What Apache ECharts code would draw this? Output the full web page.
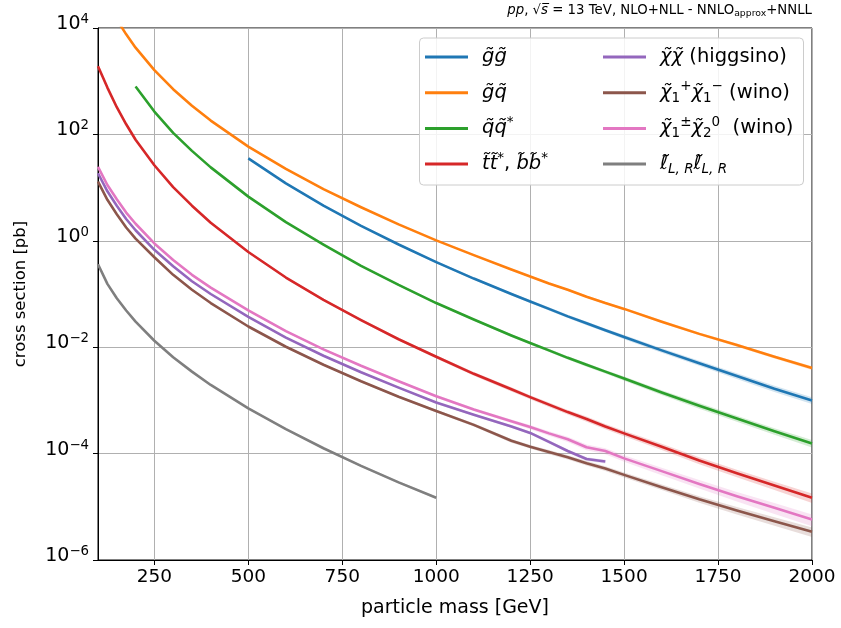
<!DOCTYPE html>
<html><head><meta charset="utf-8">
<script src="https://cdn.jsdelivr.net/npm/echarts@6/dist/echarts.min.js"></script>
<style>html,body{margin:0;padding:0;background:#fff}#c{width:841px;height:628px}</style>
</head><body><div id="c"></div>
<script>
// ---- data (cross sections in pb) ----
const masses = [100,125,150,175,200,250,300,350,400,500,600,700,800,900,1000,1100,1200,1250,1300,1350,1400,1450,1500,1600,1700,1800,1900,2000];
const xsec_gg = [null,null,null,null,null,null,null,null,null,35.5,12.0,4.57,1.91,0.851,0.398,0.195,0.100,0.0724,0.0525,0.0380,0.0282,0.0209,0.0155,0.00871,0.00501,0.00288,0.00166,0.00100];
const xsec_gq = [null,null,14500,7590,4270,1620,708,347,182,58.9,22.4,9.33,4.27,2.04,1.02,0.537,0.288,0.214,0.158,0.120,0.0891,0.0676,0.0525,0.0302,0.0178,0.0110,0.00661,0.00407];
const xsec_qq = [null,null,null,null,794,269,107,49.0,24.0,6.76,2.24,0.851,0.339,0.148,0.0676,0.0331,0.0166,0.0120,0.00871,0.00631,0.00468,0.00347,0.00257,0.00141,0.000794,0.000457,0.000263,0.000155];
const xsec_tt = [1905,759,324,155,79.4,26.3,10.2,4.57,2.19,0.617,0.204,0.0776,0.0324,0.0141,0.00661,0.00316,0.00162,0.00115,0.000832,0.000603,0.000447,0.000324,0.000240,0.000135,7.41e-5,4.27e-5,2.51e-5,1.48e-5];
const xsec_hino = [18.6,8.51,4.57,2.57,1.58,0.676,0.331,0.174,0.100,0.0372,0.0151,0.00692,0.00339,0.00174,0.000912,0.000537,0.000324,0.000245,0.000166,0.000112,7.94e-5,7.08e-5,null,null,null,null,null,null];
const xsec_c1c1 = [12.9,5.89,3.16,1.78,1.10,0.490,0.229,0.120,0.0676,0.0245,0.0102,0.00468,0.00229,0.00117,0.000631,0.000347,0.000174,0.000135,0.000107,8.51e-5,6.61e-5,5.25e-5,3.98e-5,2.34e-5,1.38e-5,8.51e-6,5.37e-6,3.39e-6];
const xsec_c1n2 = [24.5,11.2,6.03,3.39,2.09,0.891,0.437,0.229,0.132,0.0490,0.0200,0.00912,0.00447,0.00229,0.00120,0.000676,0.000407,0.000316,0.000240,0.000186,0.000132,0.000112,8.13e-5,4.68e-5,2.69e-5,1.58e-5,9.55e-6,5.75e-6];
const xsec_slep = [0.363,0.155,0.0832,0.0490,0.0302,0.0132,0.00646,0.00347,0.00195,0.000708,0.000288,0.000126,5.89e-5,2.88e-5,1.48e-5,null,null,null,null,null,null,null,null,null,null,null,null,null];
// relative uncertainties (percent, half width of the shaded band)
const unc_gg = [null,null,null,null,null,null,null,null,null,3,3,3,4,4,5,5,6,6,7,7,8,8,9,10,11,12,13,14];
const unc_gq = [null,null,3,3,3,3,3,3,3,3,3,3,3,3,3,4,4,4,5,5,5,5,5,6,6,7,7,8];
const unc_qq = [null,null,null,null,3,3,3,3,3,3,3,4,4,4,5,5,6,6,7,7,8,8,9,10,12,13,14,16];
const unc_tt = [3,3,3,3,3,3,3,4,4,4,5,5,6,6,7,8,9,9,10,10,11,11,12,13,15,16,18,20];
const unc_hino = [2,2,2,2,2,2,2,3,3,3,3,4,4,4,5,5,6,6,7,7,8,8,null,null,null,null,null,null];
const unc_c1c1 = [2,2,2,2,2,2,2,3,3,3,4,4,5,5,6,7,8,8,9,9,10,10,11,12,14,16,18,20];
const unc_c1n2 = [2,2,2,2,2,2,2,3,3,3,4,4,5,5,6,7,8,9,10,11,12,13,14,16,18,20,23,25];
const unc_slep = [3,3,3,3,3,3,3,3,3,4,4,4,5,5,5,null,null,null,null,null,null,null,null,null,null,null,null,null];

const xTicks = [250,500,750,1000,1250,1500,1750,2000];
const yTicks = [1e-6,1e-4,1e-2,1,1e2,1e4];

const seriesNames = ['gg','gq','qq','tt','hino','c1c1','c1n2','slep'];
const seriesValues = [xsec_gg,xsec_gq,xsec_qq,xsec_tt,xsec_hino,xsec_c1c1,xsec_c1n2,xsec_slep];
const seriesUnc = [unc_gg,unc_gq,unc_qq,unc_tt,unc_hino,unc_c1c1,unc_c1n2,unc_slep];
const colors = ['#1f77b4','#ff7f0e','#2ca02c','#d62728','#9467bd','#8c564b','#e377c2','#7f7f7f'];
const bandColors = ['rgba(31,119,180,0.2)','rgba(255,127,14,0.2)','rgba(44,160,44,0.2)','rgba(214,39,40,0.2)','rgba(148,103,189,0.2)','rgba(140,86,75,0.2)','rgba(227,119,194,0.2)','rgba(127,127,127,0.2)'];
const labels = {
  gg: '{sp| }{i|g̃g̃}',
  gq: '{sp| }{i|g̃q̃}',
  qq: '{sp| }{i|q̃q̃}{sup|*}',
  tt: '{sp| }{i|t̃t̃}{sup|*}{r|, }{i|b̃b̃}{sup|*}',
  hino: '{sp| }{i|χ̃χ̃}{r| (higgsino)}',
  c1c1: '{sp| }{i|χ̃}{sub|1}{sup|+}{i|χ̃}{sub|1}{sup|−}{r| (wino)}',
  c1n2: '{sp| }{i|χ̃}{sub|1}{sup|±}{i|χ̃}{sub|2}{sup|0}{r|  (wino)}',
  slep: '{sp| }{i|ℓ̃}{isub|L, R}{i|ℓ̃}{isub|L, R}'
};

const FONT = "'DejaVu Sans', sans-serif";
const legendRich = {
  sp: {width: 9, fontSize: 19, lineHeight: 26},
  i: {fontFamily: FONT, fontStyle: 'italic', fontSize: 19.5, lineHeight: 26, color: '#000'},
  r: {fontFamily: FONT, fontSize: 19.5, lineHeight: 26, color: '#000'},
  sup: {fontFamily: FONT, fontSize: 13.5, lineHeight: 14, padding: [0,0,12,0], color: '#000'},
  sub: {fontFamily: FONT, fontSize: 13.5, lineHeight: 14, padding: [11,0,0,0], color: '#000'},
  isub: {fontFamily: FONT, fontStyle: 'italic', fontSize: 13.5, lineHeight: 14, padding: [11,0,0,0], color: '#000'}
};

const series = [];
seriesNames.forEach((name, s) => {
  const vals = seriesValues[s], unc = seriesUnc[s];
  const pts = [];
  masses.forEach((m, k) => { if (vals[k] != null) pts.push([m, vals[k]]); });
  series.push({
    type: 'custom', name: name + '_band', silent: true, clip: true, z: 1,
    data: [pts[0]],
    renderItem: function (params, api) {
      const up = [], lo = [];
      for (let k = 0; k < masses.length; k++) {
        if (vals[k] == null || unc[k] == null) continue;
        up.push(api.coord([masses[k], vals[k] * (1 + unc[k] / 100)]));
        lo.push(api.coord([masses[k], vals[k] * (1 - unc[k] / 100)]));
      }
      return {type: 'polygon', shape: {points: up.concat(lo.reverse())}, style: {fill: bandColors[s], stroke: null}};
    }
  });
});
seriesNames.forEach((name, s) => {
  const pts = [];
  masses.forEach((m, k) => { if (seriesValues[s][k] != null) pts.push([m, seriesValues[s][k]]); });
  series.push({
    type: 'line', name: name, data: pts, showSymbol: false, symbol: 'none', clip: true, z: 2,
    smooth: false,
    color: colors[s], itemStyle: {color: colors[s]},
    lineStyle: {color: colors[s], width: 2.6, join: 'round', cap: 'butt'}
  });
});

function legendCfg(names, left) {
  return {
    data: names, orient: 'vertical', left: left, top: 44, padding: 0,
    itemWidth: 43, itemHeight: 3, itemGap: 9.7, icon: 'rect', selectedMode: false,
    formatter: n => labels[n],
    textStyle: {color: '#000', fontFamily: FONT, fontSize: 19.5, lineHeight: 26, height: 26, rich: legendRich}
  };
}

const chart = echarts.init(document.getElementById('c'), null, {renderer: 'canvas'});
chart.setOption({
  animation: false,
  backgroundColor: '#fff',
  title: {
    text: '{i|pp}{n|, √}{i|s̅}{n| = 13 TeV, NLO+NLL - NNLO}{sub|approx}{n|+NNLL}',
    right: 29, top: 3, padding: 0,
    textStyle: {fontWeight: 'normal', rich: {
      n: {fontFamily: FONT, fontWeight: 'normal', fontSize: 13.3, lineHeight: 16, color: '#000'},
      i: {fontFamily: FONT, fontWeight: 'normal', fontStyle: 'italic', fontSize: 13.3, lineHeight: 16, color: '#000'},
      sub: {fontFamily: FONT, fontWeight: 'normal', fontSize: 9.3, lineHeight: 10, padding: [6,0,0,0], color: '#000'}
    }}
  },
  grid: {left: 98, right: 29, top: 28, bottom: 68, containLabel: false, outerBoundsMode: 'none',
         show: true, borderColor: '#000', borderWidth: 1, backgroundColor: 'transparent'},
  legend: [legendCfg(seriesNames.slice(0,4), 425), legendCfg(seriesNames.slice(4), 603)],
  graphic: [{
    type: 'rect', left: 419, top: 37.5, z: 3,
    shape: {width: 384, height: 147, r: 4},
    style: {fill: 'rgba(255,255,255,0.85)', stroke: '#cccccc', lineWidth: 1}
  }],
  xAxis: {
    type: 'value', min: 100, max: 2000,
    name: 'particle mass [GeV]', nameLocation: 'middle', nameGap: 39,
    nameTextStyle: {fontFamily: FONT, fontSize: 19, color: '#000'},
    axisLine: {show: true, lineStyle: {color: '#000', width: 1}},
    axisTick: {show: true, inside: false, length: 5, customValues: xTicks, lineStyle: {color: '#000', width: 1}},
    axisLabel: {customValues: xTicks, margin: 8, fontFamily: FONT, fontSize: 18.5, color: '#000',
                formatter: v => String(v)},
    splitLine: {show: true, lineStyle: {color: '#b0b0b0', width: 1}}
  },
  yAxis: {
    type: 'log', logBase: 10, min: 1e-6, max: 1e4,
    name: 'cross section [pb]', nameLocation: 'middle', nameGap: 69,
    nameTextStyle: {fontFamily: FONT, fontSize: 16.5, color: '#000'},
    axisLine: {show: true, lineStyle: {color: '#000', width: 1}},
    axisTick: {show: true, inside: false, length: 5, customValues: yTicks, lineStyle: {color: '#000', width: 1}},
    axisLabel: {
      customValues: yTicks, margin: 9, padding: [0,0,8,0],
      formatter: function (v) {
        const e = Math.round(Math.log10(v));
        return '{b|10}{sup|' + (e < 0 ? '−' + (-e) : e) + '}';
      },
      rich: {
        b: {fontFamily: FONT, fontSize: 19, lineHeight: 22, color: '#000'},
        sup: {fontFamily: FONT, fontSize: 13.3, lineHeight: 14, padding: [0,0,9,0], color: '#000'}
      }
    },
    splitLine: {show: true, lineStyle: {color: '#b0b0b0', width: 1}},
    minorTick: {show: false}, minorSplitLine: {show: false}
  },
  series: series
});
</script></body></html>
